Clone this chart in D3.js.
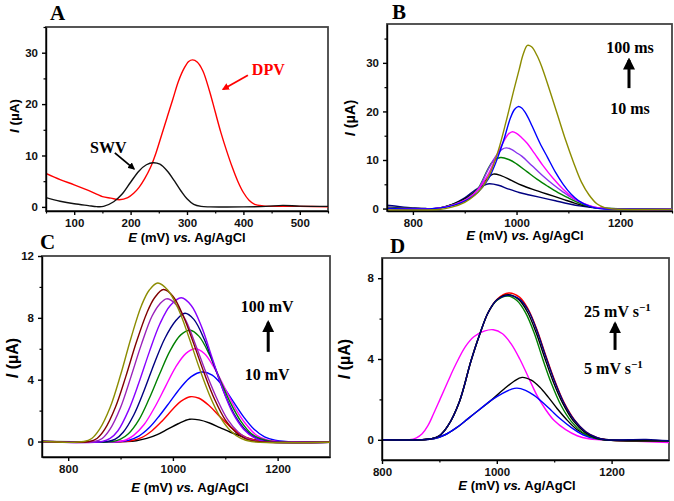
<html>
<head>
<meta charset="utf-8">
<title>Voltammetry panels</title>
<style>
  body { margin: 0; padding: 0; background: white; }
  svg { display: block; }
  .tick text { font-family: "Liberation Sans", Arial, sans-serif; font-weight: bold; font-size: 11.5px; fill: #111; }
  .axis path, .axis line { stroke: black; stroke-width: 1.4; }
  .minor path { display: none; }
  .minor line { stroke: black; stroke-width: 1.2; }
  .curve { fill: none; stroke-width: 1.4; }
  .ttl { font-family: "Liberation Serif", "Times New Roman", serif; font-weight: bold; font-size: 21px; }
  .note { font-family: "Liberation Serif", "Times New Roman", serif; font-weight: bold; font-size: 16px; }
  .lab { font-family: "Liberation Sans", Arial, sans-serif; font-weight: bold; }
</style>
</head>
<body>
<div id="chart"></div>
<script src="https://d3js.org/d3.v7.min.js"></script>
<script>
// ---- panel A: SWV vs DPV ----
var dpvA = [[50,6.5],[75,5.3],[100,4.3],[125,3.2],[150,2.0],[165,1.7],[180,1.4],[195,1.8],[205,2.6],[215,3.8],[225,5.5],[235,7.6],[245,10.5],[255,14],[265,17.5],[275,21],[285,24.5],[295,27],[303,28.3],[310,28.6],[318,28.2],[328,26.5],[340,22.5],[350,18.5],[360,14.5],[370,11],[380,7.8],[390,5],[400,2.8],[410,1.3],[420,0.5],[435,0.2],[460,0.1],[500,0.1],[550,0.0]];
var swvA = [[50,1.8],[75,1.1],[100,0.6],[125,0.25],[140,0.05],[152,0.1],[170,1.0],[185,2.5],[200,4.8],[215,7.0],[228,8.2],[240,8.6],[252,8.3],[265,7],[278,5],[290,3],[300,1.6],[312,0.5],[325,0.1],[340,0],[400,0],[440,0.1],[470,0.3],[500,0.15],[550,0.1]];

// ---- panel B: pulse width 10 -> 100 ms ----
var bOlive = [[750,-0.3],[800,-0.3],[850,-0.2],[875,0.3],[900,1.3],[920,2.8],[935,4.5],[950,7.5],[965,12],[980,18],[995,24.5],[1005,28.6],[1013,31.8],[1021,33.6],[1029,33.3],[1040,31.4],[1050,28.8],[1065,24],[1080,19],[1095,14],[1110,9.5],[1125,5.5],[1140,2.8],[1155,1.0],[1170,0.2],[1190,-0.1],[1250,-0.2],[1300,-0.2]];
var bBlue = [[750,0],[800,-0.1],[850,0.1],[880,0.7],[905,1.8],[925,3.3],[945,6],[960,9.5],[975,14],[988,18.6],[996,20.4],[1003,21],[1010,20.7],[1020,19.2],[1030,17],[1045,13.5],[1060,10.5],[1075,7.5],[1090,5],[1105,3],[1120,1.6],[1140,0.5],[1160,0],[1200,-0.1],[1300,-0.2]];
var bMagenta = [[750,0],[800,-0.1],[850,0.1],[880,0.8],[905,2],[925,3.8],[945,7],[960,10.5],[975,13.8],[984,15.3],[991,15.8],[1000,15.5],[1010,14.6],[1020,13.5],[1035,11.3],[1050,9],[1070,6.3],[1090,4],[1110,2.2],[1130,1],[1150,0.3],[1170,0],[1300,-0.2]];
var bPurple = [[750,0.1],[800,0],[850,0.1],[880,0.8],[905,2],[925,3.9],[945,8],[960,10.8],[972,12.2],[980,12.5],[990,12.2],[1000,11.5],[1010,10.8],[1030,8.8],[1050,6.8],[1070,5],[1090,3.4],[1110,2],[1130,1],[1150,0.3],[1170,0],[1300,-0.1]];
var bGreen = [[750,0.2],[800,0],[850,0.1],[880,0.9],[905,2.1],[925,4],[945,8.2],[955,9.8],[969,10.5],[985,10.1],[1000,9.2],[1020,7.6],[1040,6],[1060,4.6],[1080,3.3],[1100,2.2],[1120,1.2],[1140,0.5],[1160,0.1],[1180,0],[1300,-0.1]];
var bBlack = [[750,0.3],[800,0.05],[850,0.1],[880,1],[905,2.3],[925,4],[940,5.8],[955,7.1],[970,6.8],[990,5.8],[1010,4.8],[1030,4],[1050,3.3],[1070,2.6],[1090,1.9],[1110,1.2],[1130,0.6],[1150,0.2],[1170,0],[1300,-0.1]];
var bNavy = [[750,0.7],[775,0.4],[800,0.15],[825,0],[850,0.1],[875,0.8],[900,2.2],[920,3.8],[935,4.7],[947,5.1],[965,4.8],[985,4],[1005,3.3],[1025,2.8],[1050,2.2],[1075,1.6],[1100,1],[1125,0.5],[1150,0.15],[1175,0],[1300,-0.1]];

// ---- panel C: amplitude 10 -> 100 mV ----
var cOlive = [[750,0],[830,0],[845,0.2],[860,0.8],[880,2.2],[900,4.3],[920,6.7],[940,8.8],[955,9.8],[971,10.25],[990,9.8],[1010,8.6],[1030,6.8],[1050,4.8],[1070,3.0],[1090,1.6],[1110,0.7],[1130,0.2],[1150,0],[1300,-0.05]];
var cBrown = [[750,0],[840,0],[855,0.2],[870,0.8],[890,2.2],[910,4.2],[930,6.4],[950,8.3],[965,9.3],[982,9.83],[1000,9.4],[1020,8.1],[1040,6.3],[1060,4.4],[1080,2.7],[1100,1.4],[1120,0.6],[1140,0.15],[1160,0],[1300,-0.05]];
var cPlum = [[750,0],[850,0],[865,0.2],[880,0.8],[900,2.2],[920,4.2],[940,6.3],[960,8.1],[975,8.9],[988,9.23],[1005,8.9],[1025,7.8],[1045,6.1],[1065,4.3],[1085,2.7],[1105,1.4],[1125,0.6],[1145,0.15],[1165,0],[1300,-0.05]];
var cViolet = [[750,0],[865,0],[880,0.2],[895,0.7],[915,2.0],[935,3.8],[955,5.8],[975,7.6],[995,8.8],[1016,9.3],[1035,8.8],[1055,7.4],[1075,5.4],[1095,3.4],[1115,1.8],[1135,0.8],[1155,0.25],[1175,0],[1300,-0.05]];
var cNavy = [[750,0],[875,0],[890,0.15],[905,0.6],[925,1.7],[945,3.3],[965,5.1],[985,6.7],[1005,7.8],[1023,8.3],[1040,7.9],[1060,6.6],[1080,4.8],[1100,3.0],[1120,1.6],[1140,0.7],[1160,0.2],[1180,0],[1300,-0.05]];
var cGreen = [[750,0],[885,0],[900,0.15],[915,0.5],[935,1.4],[955,2.8],[975,4.4],[995,5.9],[1015,6.9],[1033,7.2],[1050,6.8],[1070,5.6],[1090,4.0],[1110,2.5],[1130,1.3],[1150,0.5],[1170,0.15],[1190,0],[1300,-0.05]];
var cMagenta = [[750,0],[895,0],[910,0.1],[925,0.4],[945,1.1],[965,2.2],[985,3.5],[1005,4.8],[1025,5.7],[1042,6.0],[1060,5.7],[1080,4.7],[1100,3.4],[1120,2.1],[1140,1.1],[1160,0.4],[1180,0.1],[1200,0],[1300,-0.05]];
var cBlue = [[750,0],[900,0],[915,0.08],[935,0.35],[955,0.9],[975,1.7],[995,2.6],[1015,3.5],[1035,4.2],[1055,4.5],[1075,4.3],[1095,3.6],[1115,2.6],[1135,1.6],[1155,0.8],[1175,0.3],[1195,0.08],[1215,0],[1300,-0.05]];
var cRed = [[750,0],[905,0],[920,0.05],[940,0.25],[960,0.7],[980,1.35],[1000,2.1],[1015,2.6],[1033,2.9],[1050,2.8],[1070,2.3],[1090,1.6],[1110,0.95],[1130,0.45],[1150,0.15],[1170,0.03],[1190,0],[1300,-0.05]];
var cBlack = [[750,0],[910,0],[930,0.05],[950,0.2],[970,0.45],[990,0.8],[1010,1.15],[1032,1.44],[1050,1.4],[1070,1.2],[1090,0.9],[1110,0.6],[1130,0.35],[1150,0.15],[1170,0.05],[1190,0],[1300,-0.05]];

// ---- panel D: scan rate 5 -> 25 mV/s ----
var dRed = [[800,0],[870,0],[885,0.05],[900,0.2],[915,0.7],[935,1.9],[955,3.9],[970,5.2],[985,6.3],[1000,6.95],[1021,7.27],[1040,7.05],[1055,6.45],[1070,5.45],[1085,4.2],[1100,3.0],[1117,1.85],[1135,1.0],[1155,0.4],[1175,0.1],[1190,0],[1300,-0.05]];
var dGreen = [[800,0],[870,0],[885,0.05],[900,0.2],[915,0.7],[935,1.9],[955,3.9],[970,5.2],[985,6.3],[1000,6.9],[1019,7.12],[1035,6.9],[1050,6.3],[1065,5.3],[1080,4.0],[1095,2.8],[1112,1.7],[1130,0.9],[1150,0.35],[1170,0.08],[1185,0],[1300,-0.05]];
var dBlack = [[800,0],[870,0],[885,0.05],[900,0.2],[915,0.7],[935,1.9],[955,3.9],[970,5.2],[985,6.3],[1000,6.92],[1020,7.18],[1038,6.95],[1053,6.35],[1068,5.35],[1083,4.1],[1098,2.9],[1115,1.8],[1133,0.95],[1153,0.38],[1173,0.09],[1188,0],[1300,-0.05]];
var dNavy = [[800,0],[870,0],[885,0.05],[900,0.2],[915,0.7],[935,1.9],[955,3.9],[970,5.2],[985,6.3],[1000,6.92],[1021,7.15],[1040,6.95],[1055,6.4],[1070,5.4],[1085,4.15],[1100,2.95],[1117,1.82],[1135,0.98],[1155,0.4],[1175,0.1],[1190,0],[1260,0.02],[1300,-0.05]];
var dMagenta = [[800,0],[848,0],[860,0.1],[870,0.3],[880,0.7],[890,1.3],[901,2.0],[915,2.9],[928,3.7],[945,4.6],[960,5.1],[978,5.38],[994,5.45],[1010,5.25],[1025,4.75],[1040,4.0],[1055,3.1],[1070,2.2],[1085,1.5],[1100,0.95],[1120,0.5],[1140,0.2],[1160,0.05],[1180,0],[1220,-0.05],[1300,-0.13]];
var dSmallBlack = [[800,0],[870,0],[890,0.05],[910,0.25],[930,0.6],[950,1.05],[970,1.5],[990,1.95],[1010,2.45],[1030,2.9],[1044,3.09],[1060,2.95],[1075,2.6],[1090,2.1],[1105,1.55],[1120,1.05],[1140,0.5],[1160,0.2],[1180,0.05],[1195,0],[1300,-0.05]];
var dSmallBlue = [[800,0],[870,0],[890,0.05],[910,0.25],[930,0.6],[950,1.05],[970,1.5],[990,1.95],[1010,2.3],[1025,2.5],[1035,2.56],[1050,2.45],[1065,2.2],[1080,1.85],[1095,1.45],[1110,1.05],[1130,0.6],[1150,0.25],[1170,0.07],[1190,0],[1300,-0.05]];

var panels = [
  { id: "A", box: [46, 27, 282, 184], x: [50, 550], y: [-0.8, 35],
    xMajor: [100, 200, 300, 400, 500], xMinor: [50, 150, 250, 350, 450, 550],
    yMajor: [0, 10, 20, 30], yMinor: [5, 15, 25, 35], yTitle: 13.5,
    ttl: [50, 20], xt: [187, 242], yt: [14, 116],
    series: [[dpvA, "#ff0000"], [swvA, "#111111"]] },
  { id: "B", box: [387, 24, 285, 187], x: [750, 1300], y: [-0.5, 38],
    xMajor: [800, 1000, 1200], xMinor: [900, 1100, 1300],
    yMajor: [0, 10, 20, 30], yMinor: [5, 15, 25, 35], yTitle: 14.5,
    ttl: [392, 19], xt: [525, 240], yt: [350, 118],
    series: [[bNavy, "#000080"], [bBlack, "#000000"], [bGreen, "#008000"], [bPurple, "#8833ee"],
             [bMagenta, "#ff00ff"], [bBlue, "#0000ff"], [bOlive, "#8c8c00"]] },
  { id: "C", box: [42, 256, 288, 201], x: [750, 1300], y: [-1, 12],
    xMajor: [800, 1000, 1200], xMinor: [900, 1100],
    yMajor: [0, 4, 8, 12], yMinor: [2, 6, 10], yTitle: 16,
    ttl: [40, 249], xt: [190, 492], yt: [12, 358],
    series: [[cBlack, "#000000"], [cRed, "#ff0000"], [cBlue, "#0000ff"], [cMagenta, "#ff00ff"],
             [cGreen, "#008000"], [cNavy, "#000080"], [cViolet, "#8800ff"], [cPlum, "#9922bb"],
             [cBrown, "#800000"], [cOlive, "#8c8c00"]] },
  { id: "D", box: [382, 258, 287, 202], x: [800, 1300], y: [-1, 9],
    xMajor: [800, 1000, 1200], xMinor: [900, 1100],
    yMajor: [0, 4, 8], yMinor: [2, 6], yTitle: 16,
    ttl: [390, 253], xt: [517, 490], yt: [344, 359],
    series: [[dMagenta, "#ff00ff"], [dSmallBlack, "#000000"], [dSmallBlue, "#0000ff"],
             [dRed, "#ff0000"], [dGreen, "#008000"], [dBlack, "#000000"], [dNavy, "#000080"]] }
];

var svg = d3.select("#chart").append("svg")
    .attr("width", 674)
    .attr("height", 501);

var defs = svg.append("defs");
["black", "red"].forEach(function (c) {
  defs.append("marker")
      .attr("id", "head-" + c)
      .attr("viewBox", "0 0 10 10")
      .attr("refX", 8).attr("refY", 5)
      .attr("markerWidth", 4).attr("markerHeight", 4)
      .attr("markerUnits", "strokeWidth")
      .attr("orient", "auto")
    .append("path")
      .attr("d", "M0,0 L10,5 L0,10 z")
      .attr("fill", c);
});

var scales = {};

panels.forEach(function (p) {
  var L = p.box[0], T = p.box[1], W = p.box[2], H = p.box[3];
  var x = d3.scaleLinear().domain(p.x).range([L, L + W]);
  var y = d3.scaleLinear().domain(p.y).range([T + H, T]);
  scales[p.id] = { x: x, y: y };

  defs.append("clipPath").attr("id", "clip" + p.id)
    .append("rect").attr("x", L).attr("y", T).attr("width", W).attr("height", H);

  // frame (top/right)
  svg.append("rect")
      .attr("x", L).attr("y", T).attr("width", W).attr("height", H)
      .attr("fill", "none").attr("stroke", "#444").attr("stroke-width", 1.8);

  var line = d3.line()
      .x(function (d) { return x(d[0]); })
      .y(function (d) { return y(d[1]); })
      .curve(d3.curveCatmullRom.alpha(0.5));

  var g = svg.append("g").attr("clip-path", "url(#clip" + p.id + ")");
  g.selectAll("path")
    .data(p.series)
    .enter()
    .append("path")
      .attr("class", "curve")
      .attr("d", function (s) { return line(s[0]); })
      .attr("stroke", function (s) { return s[1]; });

  // axes
  svg.append("g").attr("class", "axis")
      .attr("transform", "translate(0," + (T + H) + ")")
      .call(d3.axisBottom(x).tickValues(p.xMajor).tickSize(4).tickSizeOuter(0).tickPadding(4).tickFormat(d3.format("d")));
  svg.append("g").attr("class", "axis minor")
      .attr("transform", "translate(0," + (T + H) + ")")
      .call(d3.axisBottom(x).tickValues(p.xMinor).tickSize(2.5).tickFormat(""));
  svg.append("g").attr("class", "axis")
      .attr("transform", "translate(" + L + ",0)")
      .call(d3.axisLeft(y).tickValues(p.yMajor).tickSize(4).tickSizeOuter(0).tickPadding(4).tickFormat(d3.format("d")));
  svg.append("g").attr("class", "axis minor")
      .attr("transform", "translate(" + L + ",0)")
      .call(d3.axisLeft(y).tickValues(p.yMinor).tickSize(2.5).tickFormat(""));
  svg.selectAll(".axis .domain").attr("stroke-width", 1.6);

  // panel letter
  svg.append("text").attr("class", "ttl")
      .attr("x", p.ttl[0]).attr("y", p.ttl[1]).text(p.id);

  // x title
  var xt = svg.append("text").attr("class", "lab")
      .attr("x", p.xt[0]).attr("y", p.xt[1])
      .attr("text-anchor", "middle")
      .style("font-size", "13px");
  xt.append("tspan").attr("font-style", "italic").text("E");
  xt.append("tspan").text(" (mV) ");
  xt.append("tspan").attr("font-style", "italic").text("vs.");
  xt.append("tspan").text(" Ag/AgCl");

  // y title
  var yt = svg.append("text").attr("class", "lab")
      .attr("transform", "translate(" + p.yt[0] + "," + p.yt[1] + ") rotate(-90)")
      .attr("text-anchor", "middle")
      .attr("dy", "0.35em")
      .style("font-size", p.yTitle + "px");
  yt.append("tspan").attr("font-style", "italic").text("I");
  yt.append("tspan").text(" (\u00b5A)");
});

function arrow(id, e1, i1, e2, i2, color, width) {
  var s = scales[id];
  svg.append("line")
      .attr("x1", s.x(e1)).attr("y1", s.y(i1))
      .attr("x2", s.x(e2)).attr("y2", s.y(i2))
      .attr("stroke", color).attr("stroke-width", width)
      .attr("marker-end", "url(#head-" + (color === "red" ? "red" : "black") + ")");
}

function note(id, e, i, txt, anchor, color) {
  var s = scales[id];
  return svg.append("text").attr("class", "note")
      .attr("x", s.x(e)).attr("y", s.y(i))
      .attr("text-anchor", anchor || "middle")
      .attr("fill", color || "black")
      .text(txt);
}

// panel A labels
note("A", 415, 25.7, "DPV", "start", "red");
arrow("A", 408, 25.6, 364, 22.9, "red", 1.8);
note("A", 128, 10.5, "SWV", "start", "black");
arrow("A", 172, 10.5, 206, 7.4, "black", 1.8);

// panel B labels
note("B", 1219, 32, "100 ms");
note("B", 1219, 19.5, "10 ms");
arrow("B", 1217, 24.8, 1217, 30.6, "black", 3);

// panel C labels
note("C", 1180, 8.4, "100 mV");
note("C", 1180, 4.0, "10 mV");
arrow("C", 1182, 5.8, 1182, 7.7, "black", 3);

// panel D labels
var t1 = note("D", 1152, 6.08, "25 mV s", "start");
t1.append("tspan").attr("dy", -6).style("font-size", "11px").text("\u22121");
var t2 = note("D", 1152, 3.26, "5 mV s", "start");
t2.append("tspan").attr("dy", -6).style("font-size", "11px").text("\u22121");
arrow("D", 1206, 4.45, 1206, 5.75, "black", 3);
</script>
</body>
</html>
